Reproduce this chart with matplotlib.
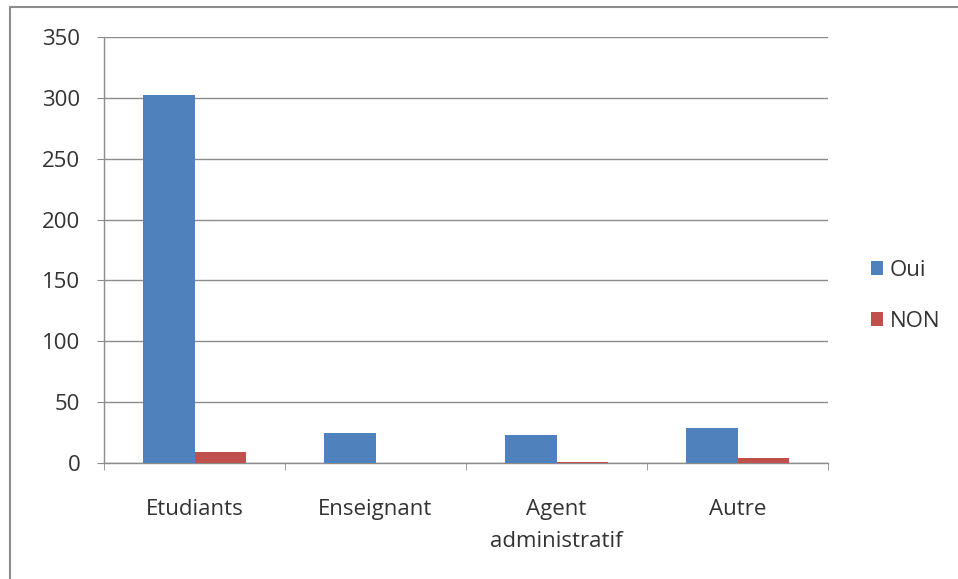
import matplotlib
matplotlib.use("Agg")
import matplotlib.pyplot as plt
import numpy as np
from matplotlib.patches import Rectangle

categories = ["Etudiants", "Enseignant", "Agent\nadministratif", "Autre"]
oui = [302, 25, 23, 29]
non = [9, 0, 1, 4]
series_names = ["Oui", "NON"]
yticks = [0, 50, 100, 150, 200, 250, 300, 350]

plt.rcParams['font.family'] = ['Open Sans', 'DejaVu Sans']
FS = 16
TC = "#333333"

W, H = 958, 579
fig = plt.figure(figsize=(W/100, H/100), dpi=100)
fig.patch.set_facecolor("white")

# outer frame
fig.add_artist(Rectangle((10/W, -0.05), 1.1, 1 - 7/H + 0.05, transform=fig.transFigure,
                         fill=False, edgecolor="#8c8c8c", linewidth=1.5))

ax = fig.add_axes([104/W, 1 - 463/H, (828-104)/W, (463-37)/H])
x = np.arange(len(categories))
w = 1/3.5
ax.bar(x - w/2, oui, width=w, color="#4F81BD", label=series_names[0], zorder=3)
ax.bar(x + w/2, non, width=w, color="#C0504D", label=series_names[1], zorder=3)

ax.set_xlim(-0.5, len(categories) - 0.5)
ax.set_ylim(0, 350)
ax.set_yticks(yticks)
ax.yaxis.grid(True, color="#8c8c8c", linewidth=1, zorder=0)
ax.set_xticks(x)
ax.set_xticklabels(categories, fontsize=FS, color=TC, linespacing=1.7)
ax.set_xticks(np.arange(len(categories) + 1) - 0.5, minor=True)
ax.tick_params(axis='x', which='major', length=0, pad=26)
ax.tick_params(axis='x', which='minor', length=5, color="#8c8c8c", direction='out')
ax.tick_params(axis='y', length=5, color="#8c8c8c", labelsize=FS, labelcolor=TC, pad=12)
for sp in ["top", "right"]:
    ax.spines[sp].set_visible(False)
for sp in ["left", "bottom"]:
    ax.spines[sp].set_color("#8c8c8c")
    ax.spines[sp].set_linewidth(1)

leg = fig.legend(loc="center left", bbox_to_anchor=(871/W, 1 - 296/H), frameon=False,
                 fontsize=FS, handlelength=0.55, handleheight=0.55, handletextpad=0.3,
                 labelspacing=1.35, borderpad=0, borderaxespad=0)
for t in leg.get_texts():
    t.set_color(TC)

fig.savefig("out.png", dpi=100)
